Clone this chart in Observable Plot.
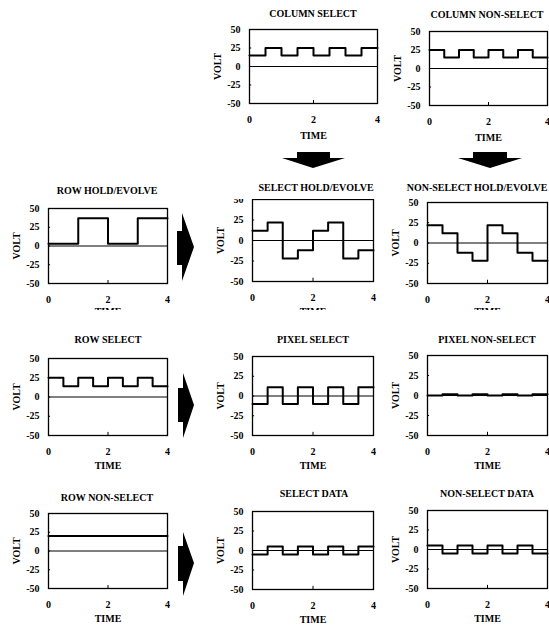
<!DOCTYPE html>
<html>
<head>
<meta charset="utf-8">
<script src="https://cdn.jsdelivr.net/npm/d3@7"></script>
<script src="https://cdn.jsdelivr.net/npm/@observablehq/plot@0.6"></script>
<style>
  html, body { margin: 0; padding: 0; background: #fff; }
  #page { position: relative; width: 549px; height: 628px; overflow: hidden; background: #fff; }
  .panel { position: absolute; }
  .panel svg { display: block; overflow: hidden; max-width: none !important; }
  #overlay { position: absolute; left: 0; top: 0; }
</style>
</head>
<body>
<div id="page"></div>
<script>
// ---- data ----
const xTicks = [0, 2, 4];
const yTicks = [-50, -25, 0, 25, 50];
const times = [0, 0.5, 1, 1.5, 2, 2.5, 3, 3.5, 4];

const columnSelect        = [15, 25, 15, 25, 15, 25, 15, 25, 25];
const columnNonSelect     = [25, 15, 25, 15, 25, 15, 25, 15, 15];
const rowHoldEvolve       = [3, 3, 37, 37, 3, 3, 37, 37, 37];
const selectHoldEvolve    = [12, 22, -22, -12, 12, 22, -22, -12, -12];
const nonSelectHoldEvolve = [22, 12, -12, -22, 22, 12, -12, -22, -22];
const rowSelect           = [25, 14, 25, 14, 25, 14, 25, 14, 14];
const pixelSelect         = [-10, 11, -10, 11, -10, 11, -10, 11, 11];
const pixelNonSelect      = [0, 1.5, 0, 1.5, 0, 1.5, 0, 1.5, 1.5];
const rowNonSelect        = [20, 20, 20, 20, 20, 20, 20, 20, 20];
const selectData          = [-5, 5, -5, 5, -5, 5, -5, 5, 5];
const nonSelectData       = [5, -5, 5, -5, 5, -5, 5, -5, -5];

const titles = ["COLUMN SELECT", "COLUMN NON-SELECT", "ROW HOLD/EVOLVE", "SELECT HOLD/EVOLVE",
  "NON-SELECT HOLD/EVOLVE", "ROW SELECT", "PIXEL SELECT", "PIXEL NON-SELECT",
  "ROW NON-SELECT", "SELECT DATA", "NON-SELECT DATA"];
const seriesList = [columnSelect, columnNonSelect, rowHoldEvolve, selectHoldEvolve,
  nonSelectHoldEvolve, rowSelect, pixelSelect, pixelNonSelect,
  rowNonSelect, selectData, nonSelectData];

// ---- layout (frame boxes, title placement, clipping) ----
const layout = [
  {x1: 249, y1: 29,  x2: 377, y2: 103, tx: 313, ty: 17,  mT: 6, clip: 628, lo: 35},
  {x1: 429, y1: 31,  x2: 547, y2: 105, tx: 487, ty: 18,  mT: 6, clip: 628, lo: 35},
  {x1: 48,  y1: 208, x2: 167, y2: 283, tx: 107, ty: 194, mT: 6, clip: 310, lo: 31},
  {x1: 252, y1: 199, x2: 373, y2: 281, tx: 316, ty: 191, mT: 0, clip: 310, lo: 33},
  {x1: 427, y1: 202, x2: 547, y2: 283, tx: 477, ty: 191, mT: 6, clip: 310, lo: 31},
  {x1: 48,  y1: 358, x2: 167, y2: 435, tx: 108, ty: 343, mT: 6, clip: 628, lo: 33},
  {x1: 252, y1: 356, x2: 373, y2: 435, tx: 313, ty: 343, mT: 6, clip: 628, lo: 33},
  {x1: 427, y1: 355, x2: 547, y2: 435, tx: 487, ty: 343, mT: 6, clip: 628, lo: 33},
  {x1: 48,  y1: 513, x2: 167, y2: 588, tx: 107, ty: 501, mT: 6, clip: 628, lo: 33},
  {x1: 252, y1: 511, x2: 373, y2: 589, tx: 314, ty: 497, mT: 6, clip: 628, lo: 33},
  {x1: 427, y1: 510, x2: 547, y2: 588, tx: 487, ty: 497, mT: 6, clip: 628, lo: 33}
];

const page = document.getElementById("page");
const FONT = "'Liberation Serif', 'Times New Roman', serif";

layout.forEach((b, i) => {
  const mL = 42, mR = 8, mT = b.mT;
  const mB = Math.min(42, b.clip - b.y2);
  const w = b.x2 - b.x1, h = b.y2 - b.y1;
  const W = w + mL + mR, H = h + mT + mB;
  const data = times.map((t, k) => ({t, v: seriesList[i][k]}));
  const chart = Plot.plot({
    width: W,
    height: H,
    marginLeft: mL, marginRight: mR, marginTop: mT, marginBottom: mB,
    style: {fontFamily: FONT, fontWeight: "bold", fontSize: "10px", color: "#000", background: "transparent", maxWidth: "none"},
    x: {domain: [0, 4], ticks: xTicks, tickFormat: d => String(d), tickSize: 0, tickPadding: 12, label: "TIME",
        labelAnchor: "center", labelOffset: b.lo, labelArrow: "none"},
    y: {domain: [-50, 50], ticks: yTicks, tickFormat: d => String(d), tickSize: 0, tickPadding: 9, label: "VOLT",
        labelAnchor: "center", labelOffset: 36, labelArrow: "none"},
    marks: [
      Plot.ruleY([0], {stroke: "#000", strokeWidth: 1}),
      Plot.ruleX(xTicks, {y1: -50, y2: -46, stroke: "#000", strokeWidth: 1}),
      Plot.ruleY(yTicks, {x1: 0, x2: 0.07, stroke: "#000", strokeWidth: 1}),
      Plot.line(data, {x: "t", y: "v", curve: "step-after", stroke: "#000", strokeWidth: 2}),
      Plot.frame({stroke: "#000", strokeWidth: 1.3})
    ]
  });
  chart.style.width = W + "px";
  chart.style.height = H + "px";
  const div = document.createElement("div");
  div.className = "panel";
  div.style.left = (b.x1 - mL) + "px";
  div.style.top = (b.y1 - mT) + "px";
  div.style.width = W + "px";
  div.style.height = H + "px";
  div.appendChild(chart);
  page.appendChild(div);
});

// ---- overlay: titles and arrows ----
const ns = "http://www.w3.org/2000/svg";
const ov = document.createElementNS(ns, "svg");
ov.setAttribute("id", "overlay");
ov.setAttribute("width", 549);
ov.setAttribute("height", 628);
layout.forEach((b, i) => {
  const t = document.createElementNS(ns, "text");
  t.setAttribute("x", b.tx);
  t.setAttribute("y", b.ty);
  t.setAttribute("text-anchor", "middle");
  t.setAttribute("font-family", FONT);
  t.setAttribute("font-weight", "bold");
  t.setAttribute("font-size", "10");
  t.textContent = titles[i];
  ov.appendChild(t);
});
const arrows = [
  // right arrows
  "177,231 182,231 182,213 194,247 182,281 182,265 177,265",
  "178,388 183,388 183,373 194,405 183,438 183,422 178,422",
  "178,546 183,546 183,532 194,563 183,596 183,581 178,581",
  // down arrows
  "297,152 330,152 330,158 345,158 313,168 282,158 297,158",
  "473,152 507,152 507,158 522,158 490,168 458,158 473,158"
];
arrows.forEach(p => {
  const poly = document.createElementNS(ns, "polygon");
  poly.setAttribute("points", p);
  poly.setAttribute("fill", "#000");
  ov.appendChild(poly);
});
page.appendChild(ov);
</script>
</body>
</html>
